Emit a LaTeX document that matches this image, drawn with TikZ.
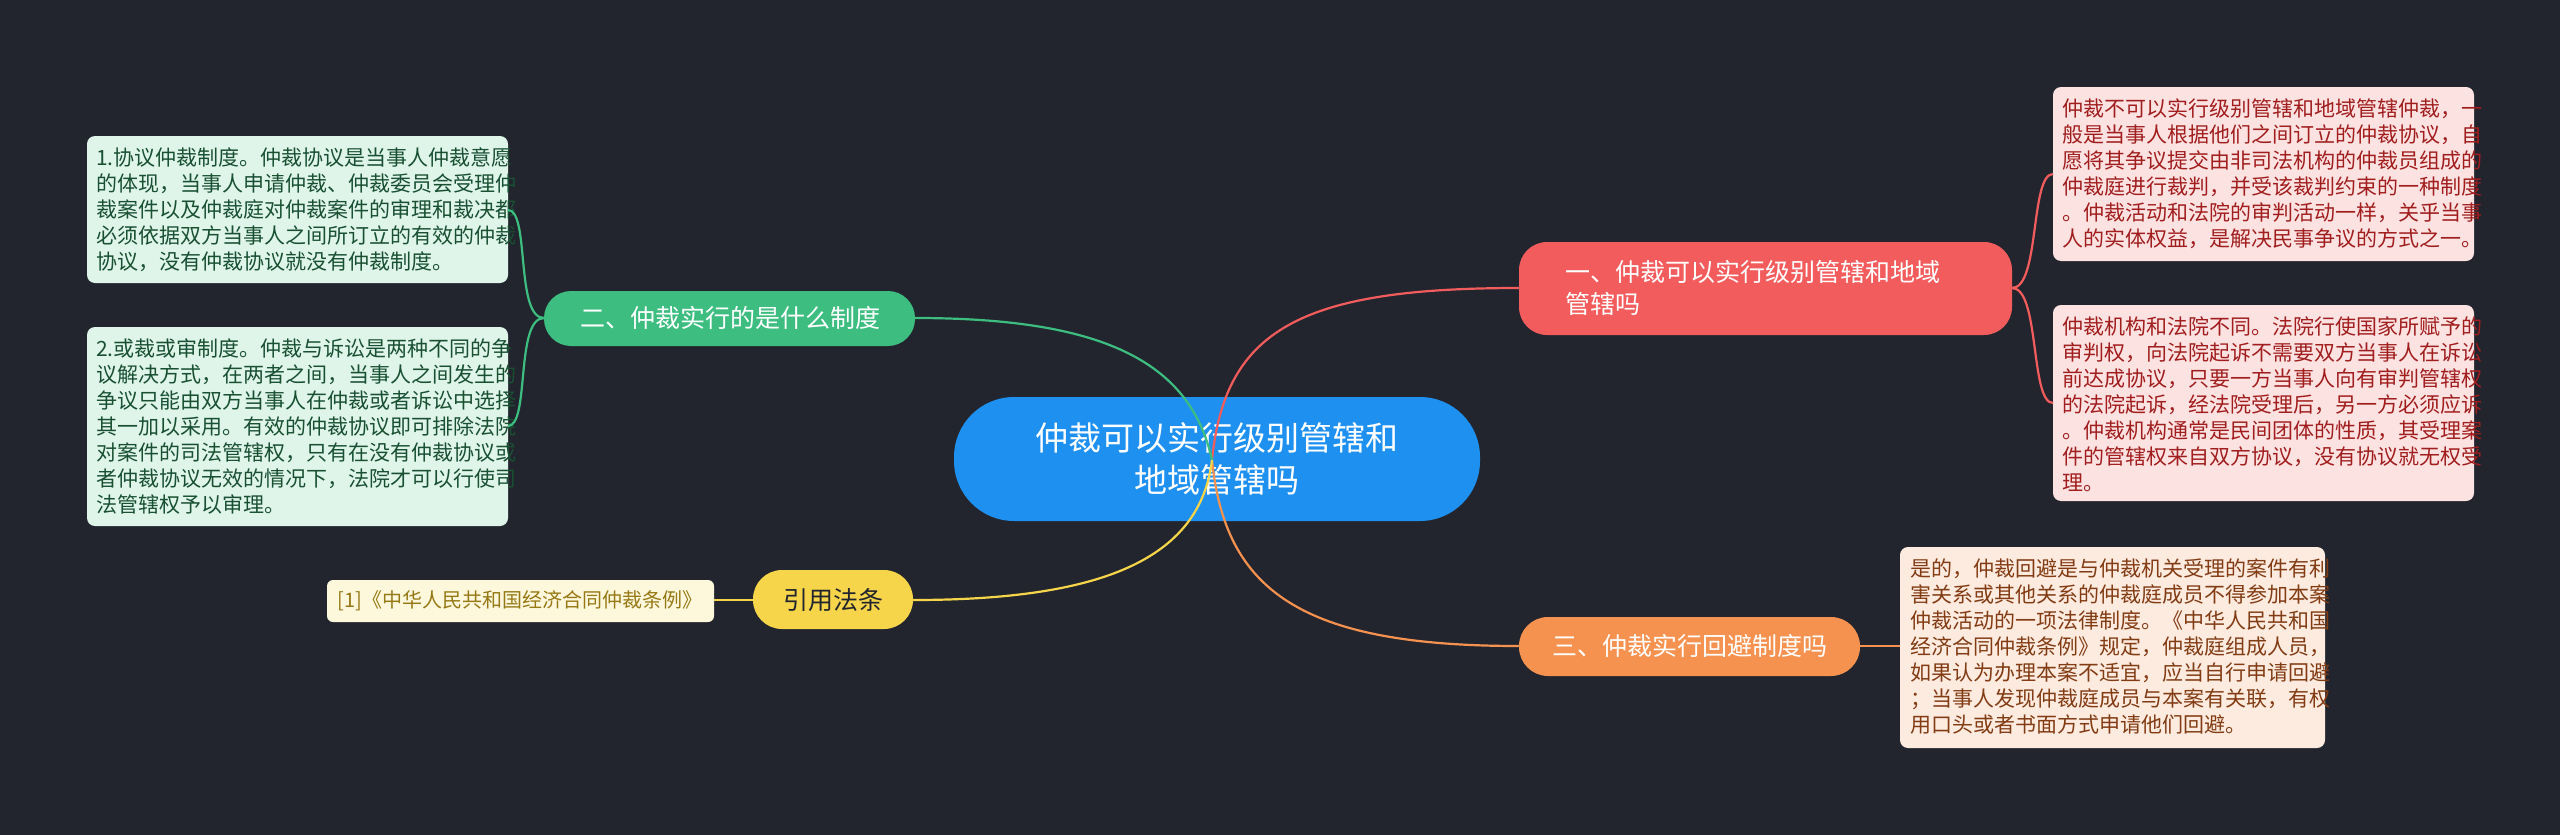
\documentclass[tikz,border=0pt]{standalone}
\usepackage{fontspec}
\setmainfont{Noto Sans CJK SC}
\begin{document}
\begin{tikzpicture}[x=1pt,y=-1pt,
  boxs/.style={rounded corners=8pt,anchor=north west,align=left,inner sep=0pt,font=\fontsize{21}{26}\selectfont},
  br/.style={rounded corners=28pt,text=white,font=\fontsize{25}{32}\selectfont,inner sep=0pt},
  ln/.style={line width=2.2pt}]
\definecolor{bg}{HTML}{22252E}
\fill[bg] (0,0) rectangle (2560,835);
\useasboundingbox (0,0) rectangle (2560,835);
% center
\fill[color={rgb,255:red,30;green,144;blue,240},rounded corners=60pt] (954,397) rectangle (1480,521);
\node[text=white,font=\fontsize{33}{42}\selectfont,align=center] (c) at (1217,459) {仲裁可以实行级别管辖和\\地域管辖吗};
% branches
\definecolor{red1}{HTML}{F25C5C}\definecolor{grn}{HTML}{3DBE80}\definecolor{org}{HTML}{F59250}\definecolor{yel}{HTML}{F6D54A}
\fill[red1,rounded corners=28pt] (1519,242) rectangle (2012,335);
\node[text=white,font=\fontsize{25}{32}\selectfont,align=left,anchor=west] (b1) at (1562,288) {一、仲裁可以实行级别管辖和地域\\管辖吗};
\coordinate (b1l) at (1519,288); \coordinate (b1r) at (2012,288);
\fill[grn,rounded corners=27pt] (544,291) rectangle (915,346);
\node[text=white,font=\fontsize{25}{32}\selectfont] (b2) at (730,318) {二、仲裁实行的是什么制度};
\coordinate (b2l) at (544,318); \coordinate (b2r) at (915,318);
\fill[org,rounded corners=29pt] (1519,617) rectangle (1860,676);
\node[text=white,font=\fontsize{25}{32}\selectfont] (b3) at (1690,646) {三、仲裁实行回避制度吗};
\coordinate (b3l) at (1519,646); \coordinate (b3r) at (1860,646);
\fill[yel,rounded corners=29pt] (753,570) rectangle (913,629);
\node[text=bg,font=\fontsize{25}{32}\selectfont] (b4) at (833,600) {引用法条};
\coordinate (b4l) at (753,600); \coordinate (b4r) at (913,600);
% leaves
\fill[fill={rgb,255:red,253;green,226;blue,226},rounded corners=8pt] (2053,87) rectangle (2474,261);
\node[boxs,text={rgb,255:red,160;green,30;blue,30}] (r1) at (2062,99) {仲裁不可以实行级别管辖和地域管辖仲裁，一\\般是当事人根据他们之间订立的仲裁协议，自\\愿将其争议提交由非司法机构的仲裁员组成的\\仲裁庭进行裁判，并受该裁判约束的一种制度\\。仲裁活动和法院的审判活动一样，关乎当事\\人的实体权益，是解决民事争议的方式之一。};
\fill[fill={rgb,255:red,253;green,226;blue,226},rounded corners=8pt] (2053,305) rectangle (2474,501);
\node[boxs,text={rgb,255:red,160;green,30;blue,30}] (r2) at (2062,316) {仲裁机构和法院不同。法院行使国家所赋予的\\审判权，向法院起诉不需要双方当事人在诉讼\\前达成协议，只要一方当事人向有审判管辖权\\的法院起诉，经法院受理后，另一方必须应诉\\。仲裁机构通常是民间团体的性质，其受理案\\件的管辖权来自双方协议，没有协议就无权受\\理。};
\fill[fill={rgb,255:red,223;green,245;blue,234},rounded corners=8pt] (87,136) rectangle (508,283);
\node[boxs,text={rgb,255:red,25;green,80;blue,50}] (l1) at (96,147) {1.协议仲裁制度。仲裁协议是当事人仲裁意愿\\的体现，当事人申请仲裁、仲裁委员会受理仲\\裁案件以及仲裁庭对仲裁案件的审理和裁决都\\必须依据双方当事人之间所订立的有效的仲裁\\协议，没有仲裁协议就没有仲裁制度。};
\fill[fill={rgb,255:red,223;green,245;blue,234},rounded corners=8pt] (87,327) rectangle (508,526);
\node[boxs,text={rgb,255:red,25;green,80;blue,50}] (l2) at (96,339) {2.或裁或审制度。仲裁与诉讼是两种不同的争\\议解决方式，在两者之间，当事人之间发生的\\争议只能由双方当事人在仲裁或者诉讼中选择\\其一加以采用。有效的仲裁协议即可排除法院\\对案件的司法管辖权，只有在没有仲裁协议或\\者仲裁协议无效的情况下，法院才可以行使司\\法管辖权予以审理。};
\fill[fill={rgb,255:red,253;green,235;blue,224},rounded corners=8pt] (1900,547) rectangle (2325,748);
\node[boxs,text={rgb,255:red,130;green,60;blue,20}] (o1) at (1910,559) {是的，仲裁回避是与仲裁机关受理的案件有利\\害关系或其他关系的仲裁庭成员不得参加本案\\仲裁活动的一项法律制度。《中华人民共和国\\经济合同仲裁条例》规定，仲裁庭组成人员，\\如果认为办理本案不适宜，应当自行申请回避\\；当事人发现仲裁庭成员与本案有关联，有权\\用口头或者书面方式申请他们回避。};
\fill[fill={rgb,255:red,253;green,248;blue,220},rounded corners=6pt] (327,580) rectangle (714,622);
\node[text={rgb,255:red,150;green,120;blue,20},font=\fontsize{20}{24}\selectfont] (y1) at (520,601) {[1]《中华人民共和国经济合同仲裁条例》};
% connectors
\coordinate (cc) at (1212,460);
\draw[ln,red1] (cc) .. controls (1225,330) and (1300,288) .. (b1l);
\draw[ln,org] (cc) .. controls (1225,590) and (1300,646) .. (b3l);
\draw[ln,grn] (cc) .. controls (1190,360) and (1100,318) .. (b2r);
\draw[ln,yel] (cc) .. controls (1200,560) and (1100,600) .. (b4r);
\draw[ln,red1] (b1r) .. controls (2040,288) and (2030,174) .. (2053,174);
\draw[ln,red1] (b1r) .. controls (2040,288) and (2030,403) .. (2053,403);
\draw[ln,grn] (b2l) .. controls (515,318) and (530,210) .. (508,210);
\draw[ln,grn] (b2l) .. controls (515,318) and (530,426) .. (508,426);
\draw[ln,org] (b3r) -- (1900,646);
\draw[ln,yel] (b4l) -- (714,600);
\end{tikzpicture}
\end{document}
